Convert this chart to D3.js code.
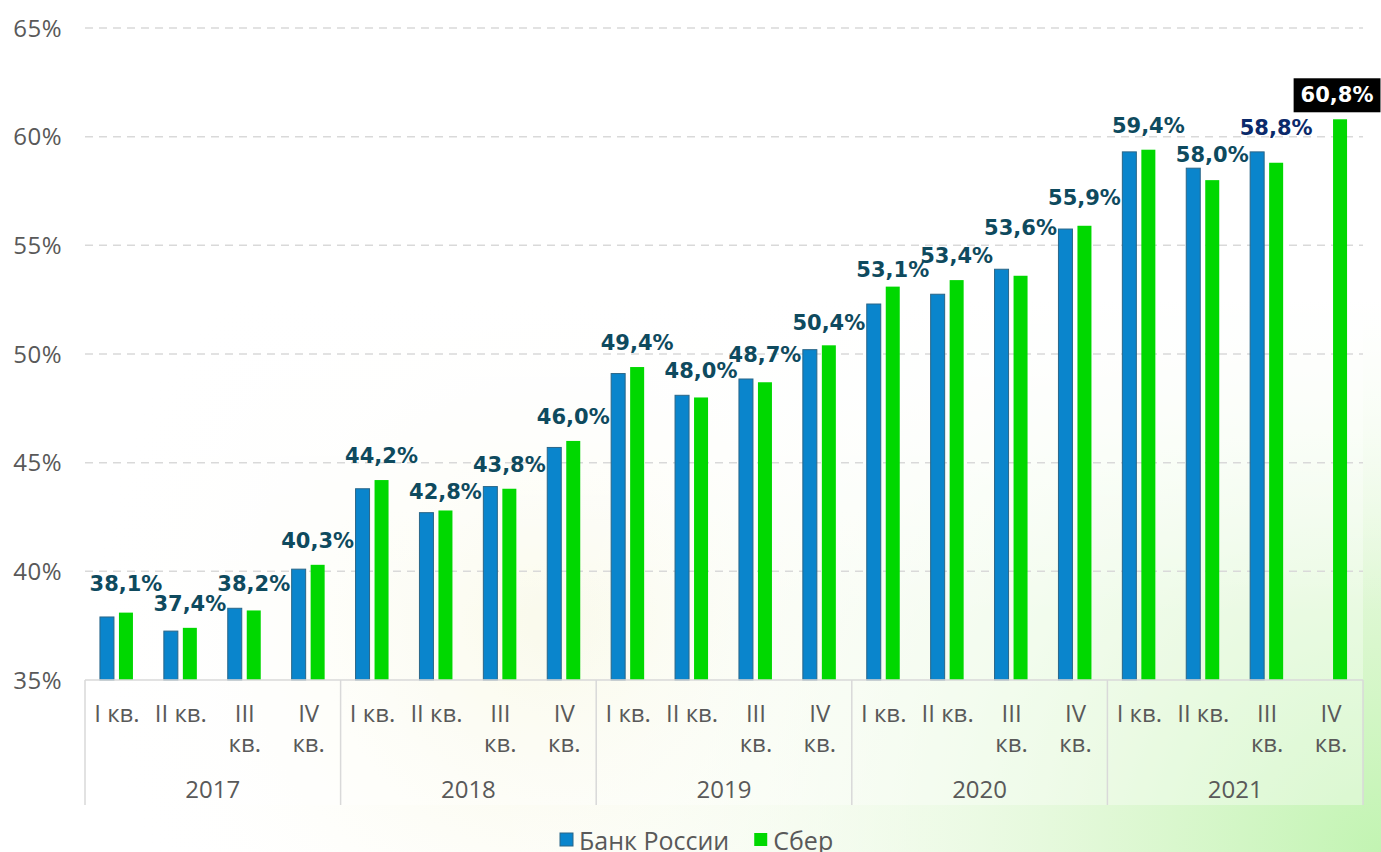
<!DOCTYPE html>
<html>
<head>
<meta charset="utf-8">
<script src="https://cdn.jsdelivr.net/npm/d3@7"></script>
<style>
  body { margin: 0; background: #fff; }
  svg { display: block; }
</style>
</head>
<body>
<div id="chart"></div>
<script>
// Data
const years = ['2017', '2018', '2019', '2020', '2021']
const quarters = ['I кв.', 'II кв.', 'III кв.', 'IV кв.']
const bankRussia = [37.9, 37.25, 38.3, 40.1, 43.8, 42.7, 43.9, 45.7, 49.1, 48.1, 48.85, 50.2,
  52.3, 52.75, 53.9, 55.75, 59.3, 58.55, 59.3, null]
const sber = [38.1, 37.4, 38.2, 40.3, 44.2, 42.8, 43.8, 46.0, 49.4, 48.0, 48.7, 50.4,
  53.1, 53.4, 53.6, 55.9, 59.4, 58.0, 58.8, 60.8]
const yTicks = [35, 40, 45, 50, 55, 60, 65]

const W = 1381, H = 852
const margin = { top: 28, right: 18, bottom: 172, left: 85 }
const width = W - margin.left - margin.right
const height = H - margin.top - margin.bottom

const svg = d3.select('#chart').append('svg').attr('width', W).attr('height', H)

// background gradients
const defs = svg.append('defs')
const g1 = defs.append('radialGradient').attr('id', 'bgGreen')
  .attr('gradientUnits', 'userSpaceOnUse').attr('cx', 1381).attr('cy', 852).attr('r', 900)
g1.append('stop').attr('offset', 0).attr('stop-color', '#c2f4b2').attr('stop-opacity', 1)
g1.append('stop').attr('offset', 0.3).attr('stop-color', '#dcf7d0').attr('stop-opacity', 0.9)
g1.append('stop').attr('offset', 0.65).attr('stop-color', '#eefae6').attr('stop-opacity', 0.5)
g1.append('stop').attr('offset', 1).attr('stop-color', '#ffffff').attr('stop-opacity', 0)
const g3 = defs.append('radialGradient').attr('id', 'bgYellow')
  .attr('gradientUnits', 'userSpaceOnUse').attr('cx', 560).attr('cy', 620).attr('r', 480)
g3.append('stop').attr('offset', 0).attr('stop-color', '#f7f7df').attr('stop-opacity', 1)
g3.append('stop').attr('offset', 1).attr('stop-color', '#ffffff').attr('stop-opacity', 0)
const g2 = defs.append('linearGradient').attr('id', 'bgFade')
  .attr('x1', 0).attr('y1', 0).attr('x2', 0).attr('y2', 1)
g2.append('stop').attr('offset', 0).attr('stop-color', '#fff').attr('stop-opacity', 1)
g2.append('stop').attr('offset', 0.35).attr('stop-color', '#fff').attr('stop-opacity', 1)
g2.append('stop').attr('offset', 0.72).attr('stop-color', '#fff').attr('stop-opacity', 0)

svg.append('rect').attr('width', W).attr('height', H).attr('fill', '#ffffff')
svg.append('rect').attr('width', W).attr('height', H).attr('fill', 'url(#bgYellow)')
svg.append('rect').attr('width', W).attr('height', H).attr('fill', 'url(#bgGreen)')
svg.append('rect').attr('width', W).attr('height', H).attr('fill', 'url(#bgFade)')
// lighter chart area
svg.append('rect').attr('width', W - margin.right).attr('height', H - 47)
  .attr('fill', '#ffffff').attr('opacity', 0.35)

const keys = []
years.forEach(y => quarters.forEach(q => keys.push(y + '|' + q)))

const x = d3.scaleBand().domain(keys).range([0, width])
const xYear = d3.scaleBand().domain(years).range([0, width])
const y = d3.scaleLinear().domain([35, 65]).range([height, 0])

const chart = svg.append('g').attr('transform', `translate(${margin.left},${margin.top})`)

// gridlines
chart.append('g').selectAll('line').data(yTicks.slice(1)).join('line')
  .attr('x1', 0).attr('x2', width)
  .attr('y1', d => y(d)).attr('y2', d => y(d))
  .attr('stroke', '#d9d9d9').attr('stroke-width', 1.5).attr('stroke-dasharray', '8,6')

// y labels
chart.append('g').selectAll('text').data(yTicks).join('text')
  .attr('x', -23).attr('y', d => y(d)).attr('dy', '0.36em')
  .attr('text-anchor', 'end')
  .style('font', '24px "Open Sans", sans-serif').style('letter-spacing', '0.5px')
  .attr('fill', '#595959')
  .text(d => d + '%')

// bars
const bw = 14
const blueOff = x.bandwidth() / 2 - 17
const greenOff = x.bandwidth() / 2 + 2
chart.append('g').selectAll('rect').data(keys).join('rect')
  .filter((d, i) => bankRussia[i] != null)
  .attr('x', d => x(d) + blueOff)
  .attr('y', (d) => y(bankRussia[keys.indexOf(d)]))
  .attr('width', bw)
  .attr('height', d => height - y(bankRussia[keys.indexOf(d)]))
  .attr('fill', '#0a85cc').attr('stroke', '#2a6688').attr('stroke-width', 1)

chart.append('g').selectAll('rect').data(keys).join('rect')
  .attr('x', d => x(d) + greenOff)
  .attr('y', (d, i) => y(sber[i]))
  .attr('width', bw)
  .attr('height', (d, i) => height - y(sber[i]))
  .attr('fill', '#00d800')

// data labels (above the taller bar, nudged like the original to avoid collisions)
const nudge = { 0: -5, 5: 6, 6: 2, 11: 2, 12: 7, 14: -17, 15: -4, 17: 11 }
const fmt = v => v.toFixed(1).replace('.', ',') + '%'
const labels = chart.append('g')
keys.forEach((k, i) => {
  const cx = x(k) + greenOff + bw / 2
  const top = Math.min(y(sber[i]), bankRussia[i] != null ? y(bankRussia[i]) : Infinity)
  const ty = top - 17 + (nudge[i] || 0)
  const last = i === keys.length - 1
  const t = labels.append('text')
    .attr('x', last ? cx - 3 : cx).attr('y', ty)
    .attr('text-anchor', 'middle')
    .style('font', 'bold 21px "DejaVu Sans", sans-serif')
    .attr('fill', last ? '#ffffff' : (i === 18 ? '#0b2a6b' : '#0e4a5e'))
    .text(fmt(sber[i]))
  if (last) {
    const bb = t.node().getBBox()
    labels.insert('rect', 'text')
      .attr('x', bb.x - 7).attr('y', bb.y - 5)
      .attr('width', bb.width + 14).attr('height', bb.height + 10)
      .attr('fill', '#000')
  }
})

// category axis
const axis = chart.append('g').attr('transform', `translate(0,${height})`)
axis.append('line').attr('x1', 0).attr('x2', width).attr('stroke', '#d9d9d9').attr('stroke-width', 1.5)
axis.selectAll('line.sep').data(d3.range(years.length + 1)).join('line').attr('class', 'sep')
  .attr('x1', i => i * xYear.bandwidth()).attr('x2', i => i * xYear.bandwidth())
  .attr('y1', 0).attr('y2', 125)
  .attr('stroke', '#d9d9d9').attr('stroke-width', 1.5)

const qLab = axis.append('g').selectAll('text').data(keys).join('text')
  .attr('text-anchor', 'middle')
  .style('font', '24px "Open Sans", sans-serif').attr('fill', '#595959')
qLab.each(function (d) {
  const q = d.split('|')[1]
  const cx = x(d) + x.bandwidth() / 2
  const el = d3.select(this)
  if (q === 'I кв.' || q === 'II кв.') {
    el.append('tspan').attr('x', cx).attr('y', 42).text(q)
  } else {
    const parts = q.split(' ')
    el.append('tspan').attr('x', cx).attr('y', 42).text(parts[0])
    el.append('tspan').attr('x', cx).attr('y', 72).text(parts[1])
  }
})

axis.append('g').selectAll('text').data(years).join('text')
  .attr('x', d => xYear(d) + xYear.bandwidth() / 2).attr('y', 118)
  .attr('text-anchor', 'middle')
  .style('font', '24px "Open Sans", sans-serif').attr('fill', '#595959')
  .text(d => d)

// legend
const legend = svg.append('g').attr('transform', 'translate(560,833)')
const items = [{ name: 'Банк России', color: '#0a85cc', stroke: '#2a6688' },
  { name: 'Сбер', color: '#00d800', stroke: 'none' }]
let lx = 0
items.forEach(it => {
  legend.append('rect').attr('x', lx).attr('y', 0).attr('width', 13).attr('height', 13)
    .attr('fill', it.color).attr('stroke', it.stroke)
  const t = legend.append('text').attr('x', lx + 19).attr('y', 17)
    .style('font', '25px "Open Sans", sans-serif').attr('fill', '#595959').text(it.name)
  lx += 19 + t.node().getComputedTextLength() + 25
})
</script>
</body>
</html>
